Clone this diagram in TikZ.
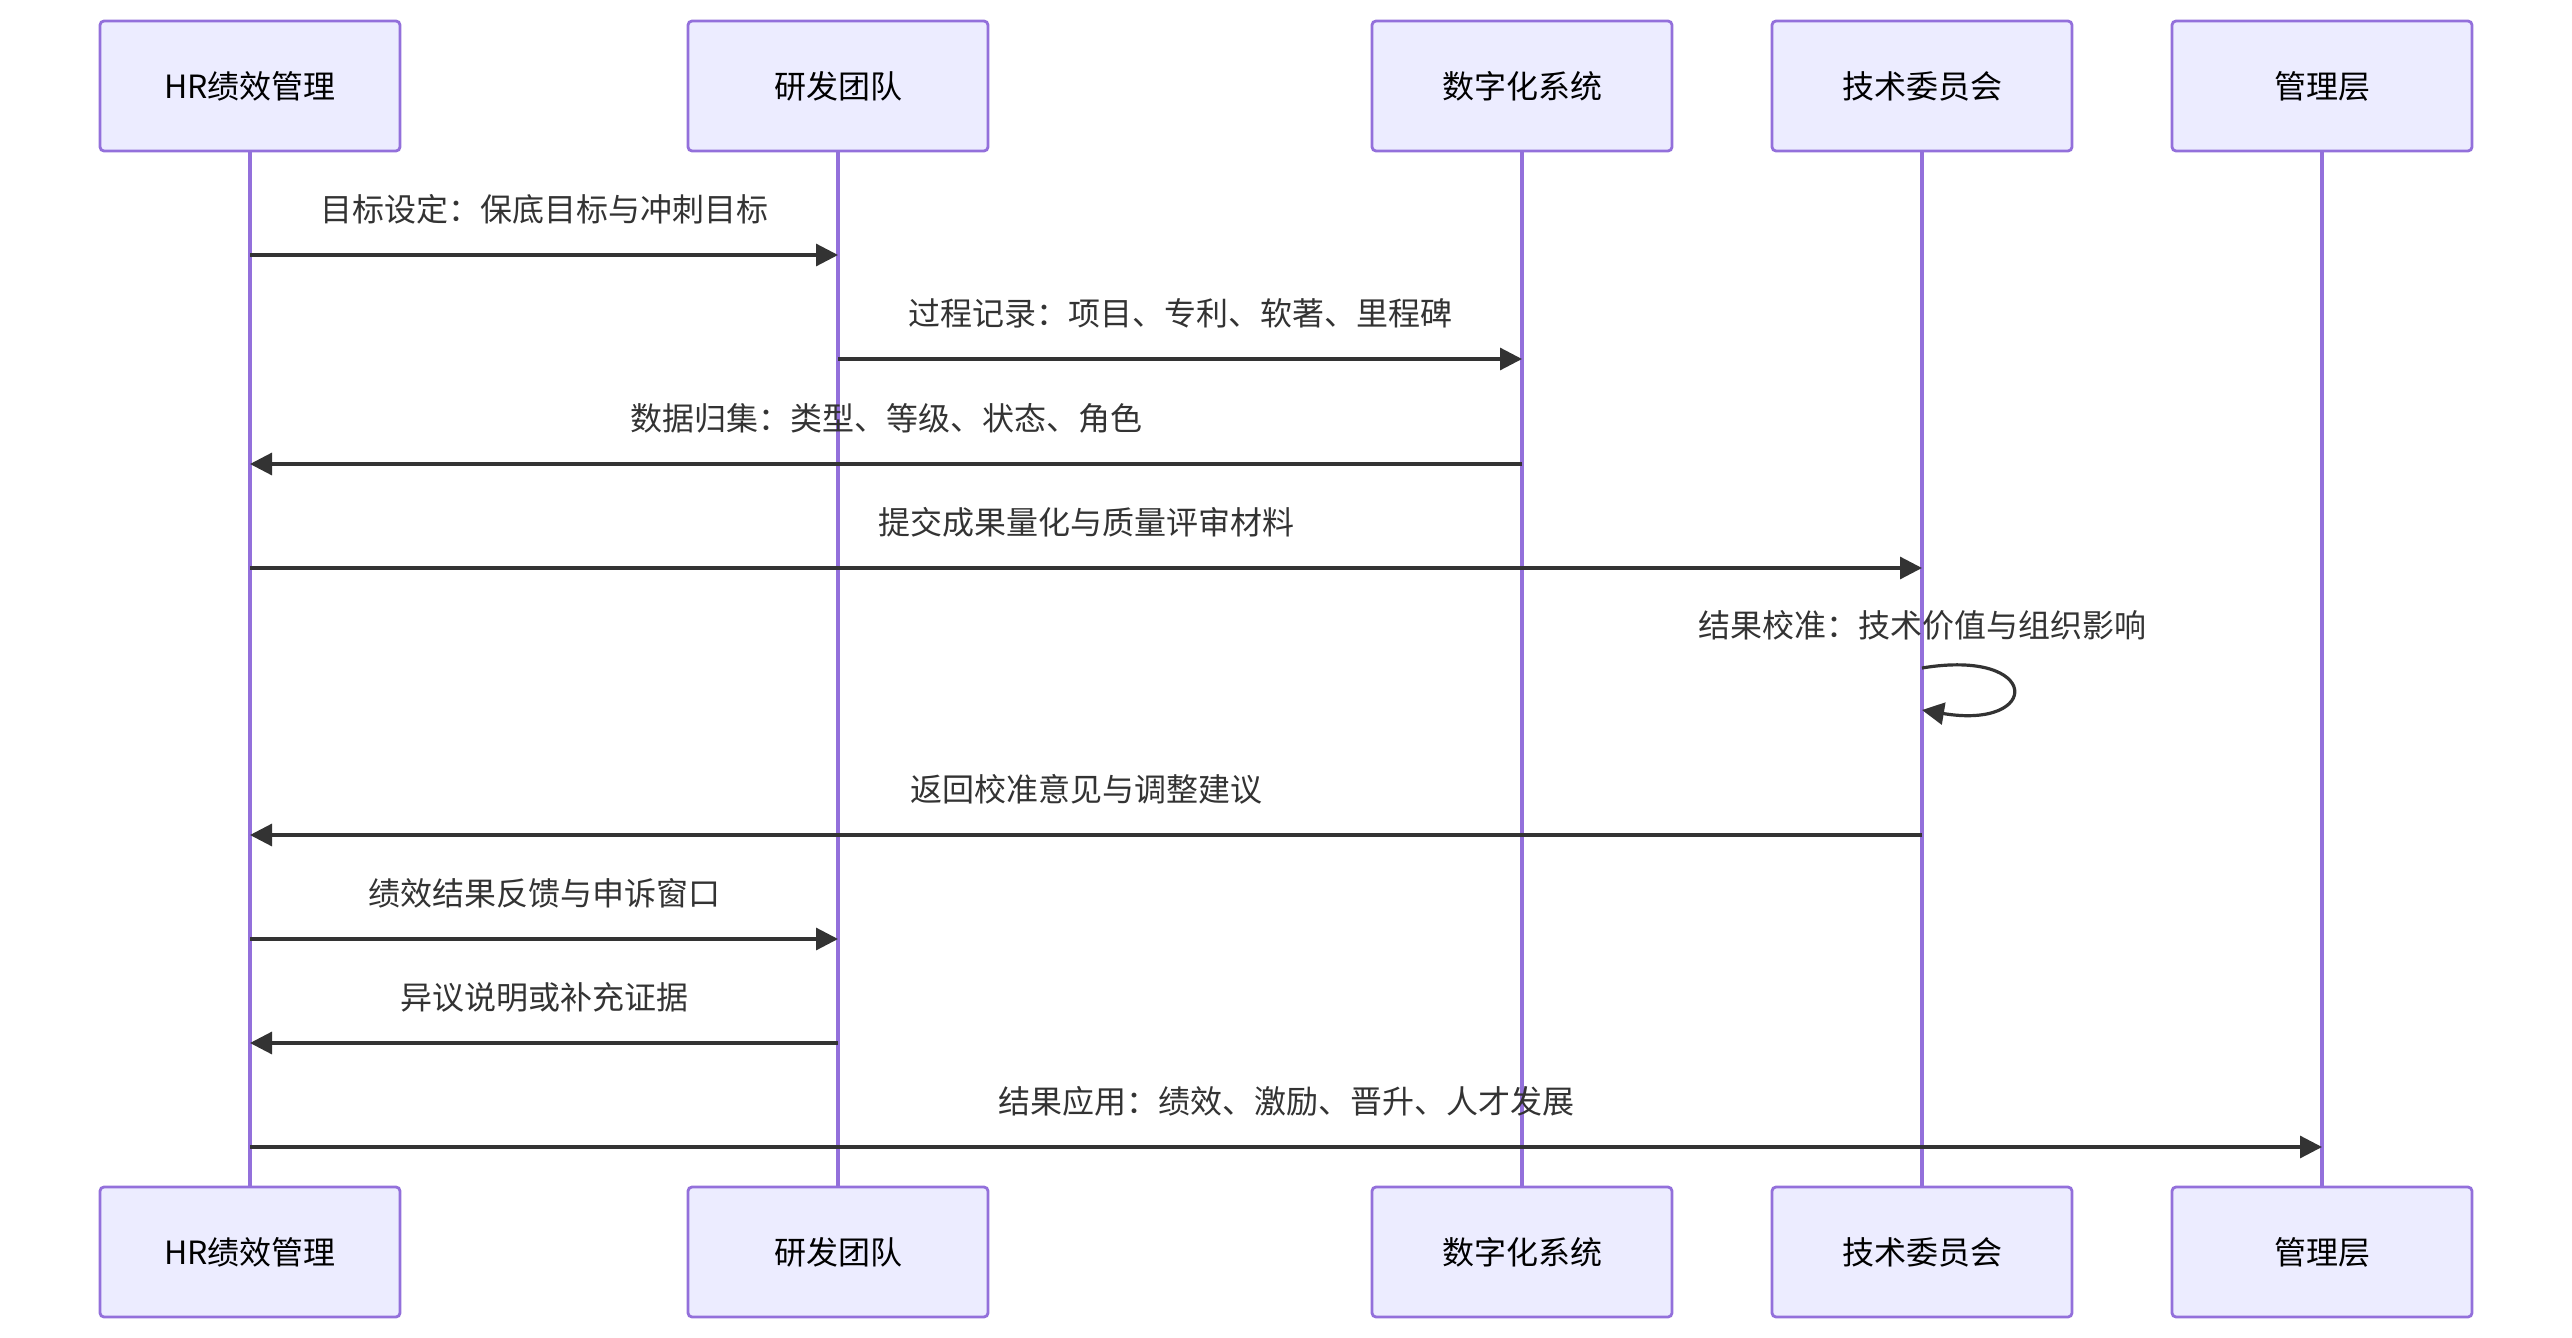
\documentclass[tikz,border=0pt]{standalone}
\usepackage{fontspec}
\setmainfont{Noto Sans CJK SC}
\usetikzlibrary{arrows.meta,calc}
\definecolor{actfill}{HTML}{ECECFF}
\definecolor{actline}{HTML}{9370DB}
\definecolor{msgc}{HTML}{333333}
\begin{document}
\begin{tikzpicture}[x=0.5pt,y=-0.5pt,
  actor/.style={draw=actline,fill=actfill,line width=1.4pt,rounded corners=2pt,
    minimum width=150pt,minimum height=65pt,inner sep=0pt,
    font=\fontsize{16pt}{19pt}\selectfont,text=black},
  life/.style={draw=actline,line width=2pt},
  msg/.style={draw=msgc,line width=1.6pt,-{Triangle[length=11pt,width=11pt]}},
  lbl/.style={font=\fontsize{16pt}{19pt}\selectfont,text=msgc,inner sep=0pt}]
\useasboundingbox (0,0) rectangle (2572,1338);
% actors
\node[actor] (a1) at (250,86) {HR绩效管理};
\node[actor] (a2) at (838,86) {研发团队};
\node[actor] (a3) at (1522,86) {数字化系统};
\node[actor] (a4) at (1922,86) {技术委员会};
\node[actor] (a5) at (2322,86) {管理层};
\node[actor] (b1) at (250,1252) {HR绩效管理};
\node[actor] (b2) at (838,1252) {研发团队};
\node[actor] (b3) at (1522,1252) {数字化系统};
\node[actor] (b4) at (1922,1252) {技术委员会};
\node[actor] (b5) at (2322,1252) {管理层};
% lifelines
\foreach \i in {1,...,5} \draw[life] (a\i.south) -- (b\i.north);
% message rows
\coordinate (y1) at (0,255);
\coordinate (y2) at (0,359);
\coordinate (y3) at (0,464);
\coordinate (y4) at (0,568);
\coordinate (y5) at (0,668);
\coordinate (y6) at (0,835);
\coordinate (y7) at (0,939);
\coordinate (y8) at (0,1043);
\coordinate (y9) at (0,1147);
% messages
\draw[msg] (a1 |- y1) -- (a2 |- y1);
\node[lbl] (l1) at ($(a1 |- y1)!0.5!(a2 |- y1)+(0,-46)$) {目标设定：保底目标与冲刺目标};
\draw[msg] (a2 |- y2) -- (a3 |- y2);
\node[lbl] (l2) at ($(a2 |- y2)!0.5!(a3 |- y2)+(0,-46)$) {过程记录：项目、专利、软著、里程碑};
\draw[msg] (a3 |- y3) -- (a1 |- y3);
\node[lbl] (l3) at ($(a3 |- y3)!0.5!(a1 |- y3)+(0,-46)$) {数据归集：类型、等级、状态、角色};
\draw[msg] (a1 |- y4) -- (a4 |- y4);
\node[lbl] (l4) at ($(a1 |- y4)!0.5!(a4 |- y4)+(0,-46)$) {提交成果量化与质量评审材料};
\coordinate (s5) at (a4 |- y5);
\draw[msg] (s5) .. controls +(120,-20) and +(120,20) .. ($(s5)+(0,42)$);
\node[lbl] (l5) at ($(s5)+(0,-43)$) {结果校准：技术价值与组织影响};
\draw[msg] (a4 |- y6) -- (a1 |- y6);
\node[lbl] (l6) at ($(a4 |- y6)!0.5!(a1 |- y6)+(0,-46)$) {返回校准意见与调整建议};
\draw[msg] (a1 |- y7) -- (a2 |- y7);
\node[lbl] (l7) at ($(a1 |- y7)!0.5!(a2 |- y7)+(0,-46)$) {绩效结果反馈与申诉窗口};
\draw[msg] (a2 |- y8) -- (a1 |- y8);
\node[lbl] (l8) at ($(a2 |- y8)!0.5!(a1 |- y8)+(0,-46)$) {异议说明或补充证据};
\draw[msg] (a1 |- y9) -- (a5 |- y9);
\node[lbl] (l9) at ($(a1 |- y9)!0.5!(a5 |- y9)+(0,-46)$) {结果应用：绩效、激励、晋升、人才发展};
\end{tikzpicture}
\end{document}
